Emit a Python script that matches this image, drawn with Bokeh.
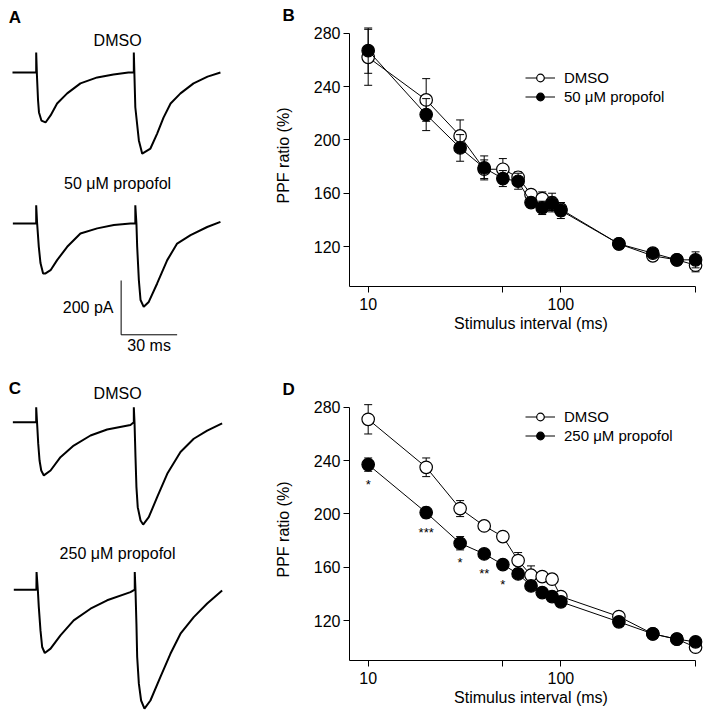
import math
from bokeh.plotting import figure
from bokeh.models import Range1d, Label, Legend, LegendItem, FixedTicker, Title
from bokeh.layouts import column, row
from bokeh.embed import file_html
from bokeh.resources import INLINE
from bokeh.core.properties import value

FONT = "Liberation Sans"

# ---------------- paired-pulse data ----------------
intervals = [10, 20, 30, 40, 50, 60, 70, 80, 90, 100, 200, 300, 400, 500]

b_dmso_mean = [262, 230, 203, 178, 178, 172, 159, 156, 153, 148, 122, 113, 110, 106]
b_dmso_sem = [21, 16, 12, 7, 8, 4, 3, 5, 7, 5, 2, 3, 3, 5]
b_prop_mean = [267, 219, 194, 179, 171, 169, 153, 149, 152, 147, 122, 115, 110, 110]
b_prop_sem = [17, 12, 10, 9, 6, 6, 3, 5, 5, 6, 2, 2, 3, 6]

d_dmso_mean = [271, 235, 204, 191, 183, 165, 154, 153, 151, 138, 123, 110, 106, 100]
d_dmso_sem = [11, 7, 6, 3, 3, 6, 7, 3, 3, 2, 3, 2, 2, 2]
d_prop_mean = [237, 201, 178, 170, 162, 155, 146, 141, 138, 134, 119, 110, 106, 104]
d_prop_sem = [5, 4, 5, 3, 3, 3, 3, 3, 3, 3, 3, 2, 2, 3]
d_sig = ["*", "***", "*", "**", "*"]

x_ticks = [10, 50, 100, 500]
y_ticks = [120, 160, 200, 240, 280]

# ---------------- current traces (ms, pA) ----------------
a_dmso_t = [-12.7, -1.5, 0.0, 0.0, 0.4, 1.0, 1.5, 2.8, 5.0, 7.7, 11.2, 16.6, 23.7, 32.7, 41.4,
            49.4, 52.3, 52.3, 53.1, 55.0, 56.8, 61.2, 64.8, 68.2, 72.0, 77.3, 84.3, 91.8, 98.7]
a_dmso_i = [0, 0, 0, 74, -11, -103, -147, -177, -184, -158, -114, -77, -40, -18, -7,
            0, 0, 74, -128, -250, -299, -280, -225, -166, -114, -77, -40, -15, 0]
a_prop_t = [-12.5, -1.3, 0.0, 0.0, 0.5, 1.4, 2.3, 3.7, 5.0, 7.7, 11.2, 16.6, 23.7, 32.7, 41.6,
            50.5, 53.1, 53.1, 53.7, 54.1, 55.0, 55.9, 57.6, 60.3, 64.8, 70.2, 75.5, 82.7, 91.6, 98.7]
a_prop_i = [0, 0, 0, 67, 1, -86, -146, -184, -184, -172, -135, -86, -37, -18, -6,
            0, 0, 67, 0, -86, -209, -282, -307, -289, -221, -135, -74, -43, -13, 6]
c_dmso_t = [-12.5, -1.3, 0.0, 0.0, 0.5, 1.1, 1.8, 2.7, 4.1, 7.7, 13.0, 20.1, 29.1, 38.0, 50.5,
            52.3, 52.3, 52.7, 53.2, 53.7, 54.4, 55.9, 57.3, 60.3, 64.8, 70.2, 77.3, 84.4, 91.6, 99.6]
c_dmso_i = [0, 0, 0, 55, -6, -80, -141, -178, -196, -178, -129, -86, -49, -27, -10,
            0, 55, -6, -129, -239, -313, -362, -377, -350, -276, -190, -110, -61, -31, -4]
c_prop_t = [-12.0, -1.3, 0.1, 0.2, 0.9, 1.4, 2.3, 3.2, 4.6, 7.7, 13.0, 20.1, 29.1, 38.0, 50.5,
            52.8, 52.8, 53.2, 53.7, 54.1, 55.0, 56.2, 58.0, 61.2, 66.5, 71.9, 77.3, 84.4, 91.6, 99.6]
c_prop_i = [0, 0, 0, 65, -3, -64, -150, -211, -233, -217, -168, -113, -70, -39, -9,
            0, 65, -3, -125, -248, -346, -408, -438, -408, -322, -236, -162, -101, -51, -3]

scale_ms = 30
scale_pa = 200

# ---------------- layout constants ----------------
MS_PER_PX = 0.5357
PA_PER_PX = 3.683
LEFT_W = 270
RIGHT_W = 442
ROW_H = 360
T_LEFT = -19.12


def add_text(p, x, y, text, align="center", size="16px", style="normal"):
    p.add_layout(Label(x=x, y=y, text=text,
                       text_align=align, text_baseline="middle", text_font=FONT,
                       text_font_size=size, text_font_style=style, text_color="black"))


def trace_panel(letter, lab1, lab2, t1, i1, t2, i2, offset2, y_top, letter_y, lab1_y, lab2_y,
                scalebar=False):
    p = figure(width=LEFT_W, height=ROW_H, x_axis_type=None, y_axis_type=None, title=None,
               x_range=Range1d(T_LEFT, T_LEFT + LEFT_W * MS_PER_PX),
               y_range=Range1d(y_top - ROW_H * PA_PER_PX, y_top),
               min_border=0, output_backend="svg", toolbar_location=None)
    p.outline_line_color = None
    p.grid.visible = False
    p.line(t1, i1, line_color="black", line_width=2)
    p.line(t2, [v + offset2 for v in i2], line_color="black", line_width=2)
    add_text(p, -14.7, letter_y, letter, align="left", size="17px", style="bold")
    add_text(p, 43.6, lab1_y, lab1)
    add_text(p, 43.6, lab2_y, lab2)
    if scalebar:
        x0, y0 = 45.5, -966
        p.line([x0, x0, x0 + scale_ms], [y0 + scale_pa, y0, y0], line_color="black", line_width=1)
        add_text(p, x0 - 4.1, y0 + 0.51 * scale_pa, f"{scale_pa} pA", align="right")
        add_text(p, x0 + scale_ms / 2, y0 - 40, f"{scale_ms} ms")
    return p


Y_PER_PX = 40 / 53.3
FRAME_H = 262
X_LEFT_B = 79
X_END = 10 ** (math.log10(8) + (RIGHT_W - X_LEFT_B) / 192.7)


def ppf_panel(letter, dm, de, pm, pe, prop_label, top_b, bot_b, legend_bottom, sig=None):
    y_end = 90 + FRAME_H * Y_PER_PX
    p = figure(width=RIGHT_W, height=top_b + FRAME_H + bot_b, x_axis_type="log", title=None,
               x_range=Range1d(8, X_END), y_range=Range1d(90, y_end),
               min_border_left=X_LEFT_B, min_border_right=0, min_border_top=top_b,
               min_border_bottom=bot_b, output_backend="svg", toolbar_location=None)
    p.outline_line_color = None
    p.grid.visible = False
    p.title = Title(text=letter, align="left", offset=-67, standoff=0,
                    text_font=FONT, text_font_size="17px", text_font_style="bold",
                    text_color="black")
    xa, ya = p.xaxis[0], p.yaxis[0]
    xa.ticker = FixedTicker(ticks=x_ticks, minor_ticks=[])
    xa.major_label_overrides = {50: "", 500: ""}
    xa.bounds = (8, 500)
    ya.ticker = FixedTicker(ticks=y_ticks, minor_ticks=[])
    ya.bounds = (90, 280)
    xa.axis_label = "Stimulus interval (ms)"
    ya.axis_label = "PPF ratio (%)"
    for ax in (xa, ya):
        ax.axis_line_color = "black"
        ax.major_tick_line_color = "black"
        ax.major_tick_out = 6
        ax.major_tick_in = 0
        ax.minor_tick_out = 0
        ax.major_label_text_font = FONT
        ax.major_label_text_font_size = "16px"
        ax.major_label_text_color = "black"
        ax.axis_label_text_font = FONT
        ax.axis_label_text_font_size = "16px"
        ax.axis_label_text_font_style = "normal"
        ax.axis_label_text_color = "black"
    xa.major_label_standoff = 5
    xa.axis_label_standoff = 2
    ya.major_label_standoff = 3
    ya.axis_label_standoff = 19

    rends = []
    for m, e, fill in ((dm, de, "white"), (pm, pe, "black")):
        lo = [a - b for a, b in zip(m, e)]
        hi = [a + b for a, b in zip(m, e)]
        ln = p.line(intervals, m, line_color="black", line_width=1)
        p.segment(x0=intervals, y0=lo, x1=intervals, y1=hi, line_color="black", line_width=1)
        p.scatter(x=intervals + intervals, y=lo + hi, marker="dash", size=8,
                  line_color="black", line_width=1)
        sc = p.scatter(intervals, m, marker="circle", size=12.5, fill_color=fill,
                       line_color="black", line_width=1.2)
        rends.append((ln, sc))

    leg = Legend(items=[LegendItem(label="DMSO", renderers=list(rends[0])),
                        LegendItem(label=prop_label, renderers=list(rends[1]))],
                 location=(176, legend_bottom), padding=0, margin=0, spacing=0,
                 glyph_width=30, glyph_height=19, label_standoff=9,
                 border_line_color=None, background_fill_alpha=0,
                 label_text_font=FONT, label_text_font_size="15px",
                 label_text_color="black")
    p.add_layout(leg)

    if sig:
        n = len(sig)
        p.text(x=intervals[:n], y=pm[:n], text=sig, text_align="center", text_baseline="top",
               y_offset=12, text_font=value(FONT), text_font_size="13px", text_color="black")
    return p


pa = trace_panel("A", "DMSO", "50 \u03bcM propofol", a_dmso_t, a_dmso_i, a_prop_t, a_prop_i,
                 -556, 265.2, 202.6, 117.9, -408.8, scalebar=True)
pc = trace_panel("C", "DMSO", "250 \u03bcM propofol", c_dmso_t, c_dmso_i, c_prop_t, c_prop_i,
                 -617, 227.2, 124, 106, -485)
pb = ppf_panel("B", b_dmso_mean, b_dmso_sem, b_prop_mean, b_prop_sem,
               "50 \u03bcM propofol", 24, 74, 180)
pd = ppf_panel("D", d_dmso_mean, d_dmso_sem, d_prop_mean, d_prop_sem,
               "250 \u03bcM propofol", 38, 60, 215, sig=d_sig)

layout = row(column(pa, pc), column(pb, pd))
open("out.html", "w").write(file_html(layout, INLINE))
